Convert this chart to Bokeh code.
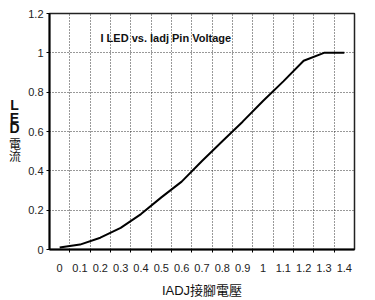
from bokeh.plotting import figure
from bokeh.models import Range1d, FixedTicker, Label
from bokeh.layouts import row
from bokeh.core.properties import value
from bokeh.embed import file_html
from bokeh.resources import INLINE

# data
voltage = [0.0, 0.1, 0.2, 0.3, 0.4, 0.5, 0.6, 0.7, 0.8, 0.9, 1.0, 1.1, 1.2, 1.3, 1.4]
current = [0.01, 0.025, 0.06, 0.11, 0.18, 0.265, 0.345, 0.45, 0.55, 0.65, 0.755, 0.855, 0.96, 1.0, 1.0]
x_labels = ["0", "0.1", "0.2", "0.3", "0.4", "0.5", "0.6", "0.7", "0.8", "0.9", "1", "1.1", "1.2", "1.3", "1.4"]
y_ticks = [0, 0.2, 0.4, 0.6, 0.8, 1.0, 1.2]
y_labels = ["0", "0.2", "0.4", "0.6", "0.8", "1", "1.2"]
title_text = "I LED vs. Iadj Pin Voltage"
x_title = "IADJ接腳電壓"
y_title_chars = ["L", "E", "D", "電", "流"]

FONT = "Liberation Sans"
CJK = "Liberation Sans, Noto Sans CJK TC"

LEFT_W = 25
step = 0.1
x0 = voltage[0] - step / 2
x1 = voltage[-1] + step / 2

# narrow panel holding the stacked y-axis title (coordinates = pixels from top)
side = figure(frame_width=LEFT_W, frame_height=300, output_backend="svg", toolbar_location=None,
              x_range=Range1d(0, LEFT_W), y_range=Range1d(0, 300),
              min_border_left=0, min_border_right=0, min_border_top=0, min_border_bottom=0,
              x_axis_type=None, y_axis_type=None)
side.outline_line_color = None
side.xgrid.visible = False
side.ygrid.visible = False
ty = [91.5, 104.0, 114.5, 131.5, 143.5]
side.text(x=[14, 14, 14], y=[300 - t for t in ty[:3]], text=y_title_chars[:3],
          text_font=value(FONT), text_font_style="bold", text_font_size="14px",
          text_align="center", text_baseline="middle", text_color="#111111")
side.text(x=[14.5, 14.5], y=[300 - t for t in ty[3:]], text=y_title_chars[3:],
          text_font=value(CJK), text_font_size="12px",
          text_align="center", text_baseline="middle", text_color="#111111")

p = figure(frame_width=305, frame_height=236, output_backend="svg", toolbar_location=None,
           x_range=Range1d(x0, x1), y_range=Range1d(0, 1.2),
           min_border_left=49 - LEFT_W, min_border_right=21, min_border_top=13, min_border_bottom=51)
p.outline_line_color = "#222222"
p.outline_line_width = 1.5
p.background_fill_color = "white"
p.border_fill_color = "white"

boundaries = [v + step / 2 for v in voltage[:-1]]

# x axis
p.xaxis.ticker = FixedTicker(ticks=voltage, minor_ticks=boundaries)
p.xaxis.major_label_overrides = {v: l for v, l in zip(voltage, x_labels)}
p.xaxis.major_tick_line_color = None
p.xaxis.minor_tick_in = 0
p.xaxis.minor_tick_out = 3
p.xaxis.minor_tick_line_color = "black"
p.xaxis.axis_line_width = 2
p.xaxis.axis_line_color = "black"
p.xaxis.major_label_text_font = FONT
p.xaxis.major_label_text_font_size = "11px"
p.xaxis.major_label_text_color = "#222222"
p.xaxis.major_label_standoff = 8
p.xaxis.axis_label = x_title
p.xaxis.axis_label_text_font = CJK
p.xaxis.axis_label_text_font_style = "normal"
p.xaxis.axis_label_text_font_size = "13px"
p.xaxis.axis_label_text_color = "#111111"
p.xaxis.axis_label_standoff = 8

# y axis
p.yaxis.ticker = FixedTicker(ticks=y_ticks)
p.yaxis.major_label_overrides = {v: l for v, l in zip(y_ticks, y_labels)}
p.yaxis.major_tick_in = 0
p.yaxis.major_tick_out = 3
p.yaxis.minor_tick_line_color = None
p.yaxis.axis_line_width = 2
p.yaxis.axis_line_color = "black"
p.yaxis.major_label_text_font = FONT
p.yaxis.major_label_text_font_size = "11px"
p.yaxis.major_label_text_color = "#222222"
p.yaxis.major_label_standoff = 3

# grids
p.xgrid.ticker = FixedTicker(ticks=boundaries)
p.xgrid.grid_line_color = "#333333"
p.xgrid.grid_line_dash = "1 2"
p.xgrid.grid_line_width = 1
p.ygrid.ticker = FixedTicker(ticks=y_ticks[1:-1])
p.ygrid.grid_line_color = "#333333"
p.ygrid.grid_line_dash = "1 2"
p.ygrid.grid_line_width = 1

p.line(voltage, current, line_color="black", line_width=2)

# chart title inside plot
px = (x1 - x0) / 305.0
py = 1.2 / 236.0
p.add_layout(Label(x=x0 + (100 - 49) * px, y=(249 - 37) * py, text=title_text,
                   text_font=FONT, text_font_style="bold", text_font_size="11px",
                   text_align="left", text_baseline="middle", text_color="#111111"))

layout = row(side, p, spacing=0)
open("out.html", "w").write(file_html(layout, INLINE))
